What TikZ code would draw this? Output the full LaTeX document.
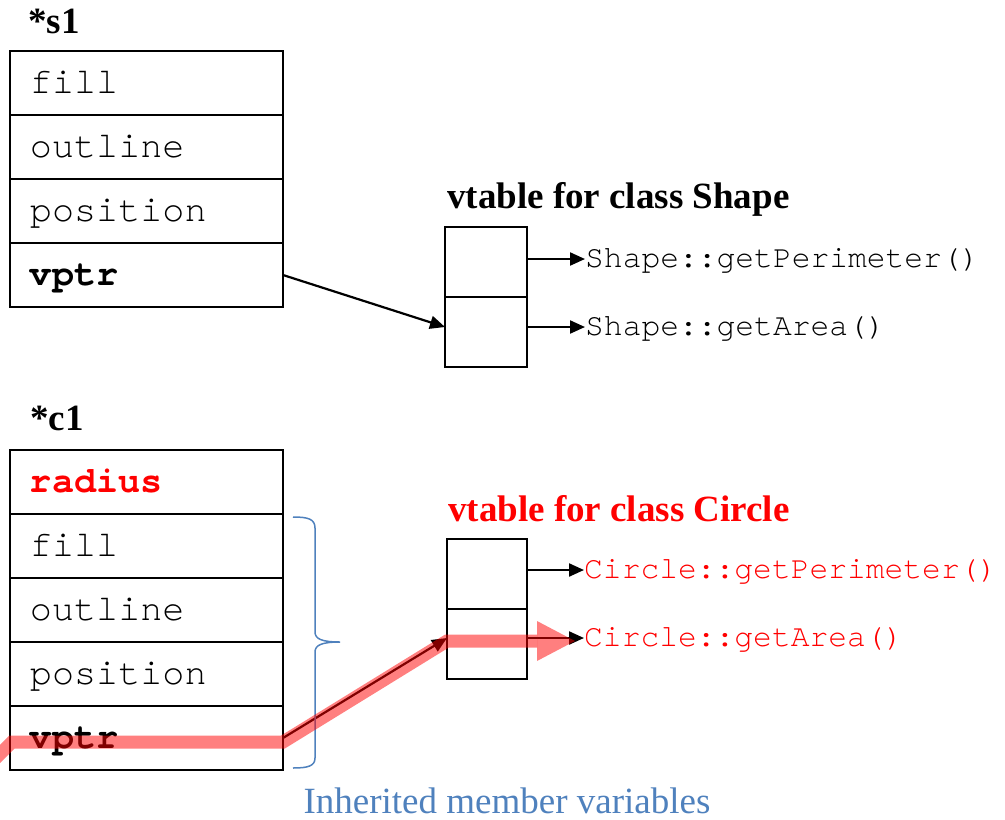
\documentclass[tikz,border=0pt]{standalone}
\usepackage{fontspec}
\setmainfont{Liberation Serif}
\setmonofont[Ligatures=NoCommon]{TeX Gyre Cursor}
\usetikzlibrary{arrows.meta}
\definecolor{braceblue}{RGB}{79,129,189}
\begin{document}
\begin{tikzpicture}[x=1pt,y=-1pt,
  field/.style={draw, line width=2.6pt, anchor=north west, outer sep=0pt,
    minimum width=273pt, minimum height=64pt, text width=233pt,
    inner xsep=20pt, inner ysep=0pt, align=left,
    text height=27pt, text depth=7pt,
    font=\fontsize{36.8}{40}\selectfont\ttfamily},
  slot/.style={draw, line width=2.6pt, anchor=north west, outer sep=0pt,
    minimum width=82pt, minimum height=70pt, inner sep=0pt},
  title/.style={anchor=base west, inner sep=0pt,
    font=\fontsize{37}{40}\selectfont\bfseries},
  code/.style={anchor=west, inner sep=0pt, text height=20pt, text depth=4pt,
    font=\fontsize{31.3}{34}\selectfont\ttfamily},
  ptr/.style={line width=2.2pt, -{Triangle[length=15pt,width=13pt]}}]
\useasboundingbox (0,0) rectangle (1005,820);

% object pointed to by s1
\node[title] (s1lbl) at (28,33) {*s1};
\node[field] (s1fill) at (10,51) {fill};
\node[field] (s1out) at (s1fill.south west) {outline};
\node[field] (s1pos) at (s1out.south west) {position};
\node[field] (s1vptr) at (s1pos.south west) {\textbf{vptr}};

% vtable of Shape
\node[title] (shtitle) at (447,208) {vtable for class Shape};
\node[slot] (shc1) at (445,227) {};
\node[slot] (shc2) at (shc1.south west) {};
\node[code] (sgp) at ([xshift=58pt,yshift=3pt]shc1.east) {Shape::getPerimeter()};
\node[code] (sga) at ([xshift=58pt,yshift=5pt]shc2.east) {Shape::getArea()};
\draw[ptr] (shc1.east |- sgp.west) -- (sgp.west);
\draw[ptr] (shc2.east |- sga.west) -- (sga.west);
\draw[ptr] (s1vptr.east) -- ([yshift=5pt]shc2.west);

% object pointed to by c1
\node[title] (c1lbl) at (30,430) {*c1};
\node[field, text=red] (c1rad) at (10,450) {\textbf{radius}};
\node[field] (c1fill) at (c1rad.south west) {fill};
\node[field] (c1out) at (c1fill.south west) {outline};
\node[field] (c1pos) at (c1out.south west) {position};
\node[field] (c1vptr) at (c1pos.south west) {\textbf{vptr}};

% vtable of Circle
\node[title, text=red] (cititle) at (448,521) {vtable for class Circle};
\node[slot, minimum width=80pt] (cc1) at (447,539) {};
\node[slot, minimum width=80pt] (cc2) at (cc1.south west) {};
\node[code, text=red] (cgp) at ([xshift=57pt,yshift=4pt]cc1.east) {Circle::getPerimeter()};
\node[code, text=red] (cga) at ([xshift=57pt,yshift=6pt]cc2.east) {Circle::getArea()};
\draw[ptr] (cc1.east |- cgp.west) -- (cgp.west);
\draw[ptr] (cc2.east |- cga.west) -- (cga.west);
\draw[ptr] (c1vptr.east) -- ([yshift=6pt]cc2.west);

% brace over the inherited fields
\draw[braceblue, line width=1.5pt]
  (293,517) .. controls (308,517) and (315,519) .. (315,528) -- (315,632)
  .. controls (315,639) and (322,642) .. (340,642)
  .. controls (322,642) and (315,645) .. (315,652) -- (315,758)
  .. controls (315,766) and (308,768) .. (293,768);
\node[anchor=base, inner sep=0pt, text=braceblue,
  font=\fontsize{37}{40}\selectfont] (inh) at (507,813) {Inherited member variables};

% highlighted dispatch path
\draw[red, opacity=0.5, line width=13pt]
  (-10,764) -- (12,742) -- (c1vptr.east |- 0,742) -- (447,641) -- (537,641);
\fill[red, opacity=0.5] (537,621) -- (575,641) -- (537,661) -- cycle;
\end{tikzpicture}
\end{document}
